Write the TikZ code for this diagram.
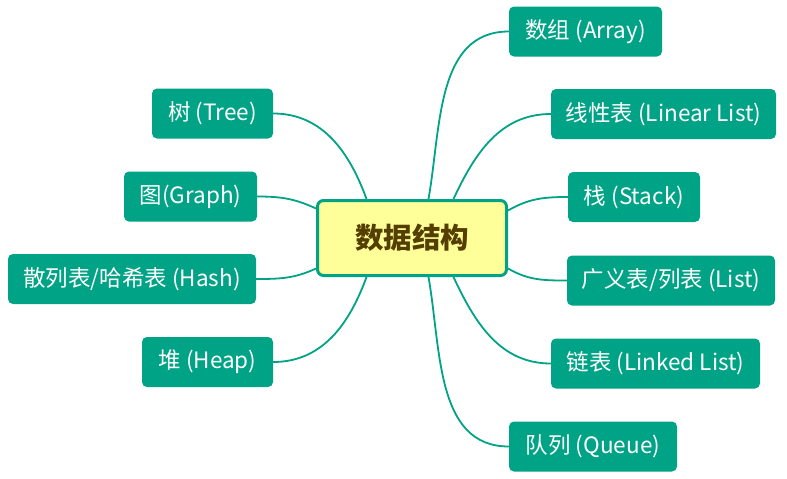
\documentclass[tikz,border=0pt]{standalone}
\usepackage{fontspec}
\setmainfont{Noto Sans CJK SC}
\usetikzlibrary{calc}
\definecolor{tealA}{RGB}{0,163,134}
\definecolor{yellowA}{RGB}{255,255,153}
\definecolor{brownA}{RGB}{84,62,0}
\newcommand\lowtxt[1]{\raisebox{-1.5pt}{#1}}
\begin{document}
\begin{tikzpicture}[x=1pt,y=1pt,
  leaf/.style={fill=tealA, rounded corners=5pt, text=white, font=\fontsize{22.5}{26}\selectfont, minimum height=50pt, inner sep=0pt, anchor=center},
  conn/.style={draw=tealA, line width=1.8pt}]
\useasboundingbox (0,0) rectangle (787,-479);
\node[draw=tealA, line width=3pt, fill=yellowA, rounded corners=6pt, minimum width=189pt, minimum height=75pt, inner sep=0pt, font=\fontsize{28.5}{32}\selectfont\bfseries, text=brownA] (c) at (412,-238) {数据结构};
% right
\node[leaf, minimum width=153pt] (arr) at (585.5,-31.5) {\lowtxt{数组 (Array)}};
\node[leaf, minimum width=225pt] (lin) at (663.5,-114) {\lowtxt{线性表 (Linear List)}};
\node[leaf, minimum width=132pt] (stk) at (634,-197) {\lowtxt{栈 (Stack)}};
\node[leaf, minimum width=208pt] (lst) at (671,-280.5) {\lowtxt{广义表/列表 (List)}};
\node[leaf, minimum width=209pt] (lnk) at (655.5,-363.5) {\lowtxt{链表 (Linked List)}};
\node[leaf, minimum width=168pt] (que) at (593,-446.5) {\lowtxt{队列 (Queue)}};
% left
\node[leaf, minimum width=121pt] (tree) at (212.5,-113.5) {\lowtxt{树 (Tree)}};
\node[leaf, minimum width=133pt] (gra) at (190.5,-196.5) {\lowtxt{图(Graph)}};
\node[leaf, minimum width=248pt] (hash) at (132,-279) {\lowtxt{散列表/哈希表 (Hash)}};
\node[leaf, minimum width=131pt] (heap) at (207.5,-362) {\lowtxt{堆 (Heap)}};
% connectors
\draw[conn] ([xshift=112.5pt]c.north west) to[out=80,in=180] (arr.west);
\draw[conn] ([xshift=137.5pt]c.north west) to[out=65,in=180] (lin.west);
\draw[conn] ([yshift=-11.5pt]c.north east) to[out=30,in=180] (stk.west);
\draw[conn] ([yshift=8.5pt]c.south east) to[out=-30,in=180] (lst.west);
\draw[conn] ([xshift=137.5pt]c.south west) to[out=-65,in=180] (lnk.west);
\draw[conn] ([xshift=112.5pt]c.south west) to[out=-80,in=180] (que.west);
\draw[conn] ([xshift=50.5pt]c.north west) to[out=110,in=0] (tree.east);
\draw[conn] ([yshift=-9.5pt]c.north west) to[out=155,in=0] (gra.east);
\draw[conn] ([yshift=8.5pt]c.south west) to[out=-155,in=0] (hash.east);
\draw[conn] ([xshift=50.5pt]c.south west) to[out=-110,in=0] (heap.east);
\end{tikzpicture}
\end{document}
